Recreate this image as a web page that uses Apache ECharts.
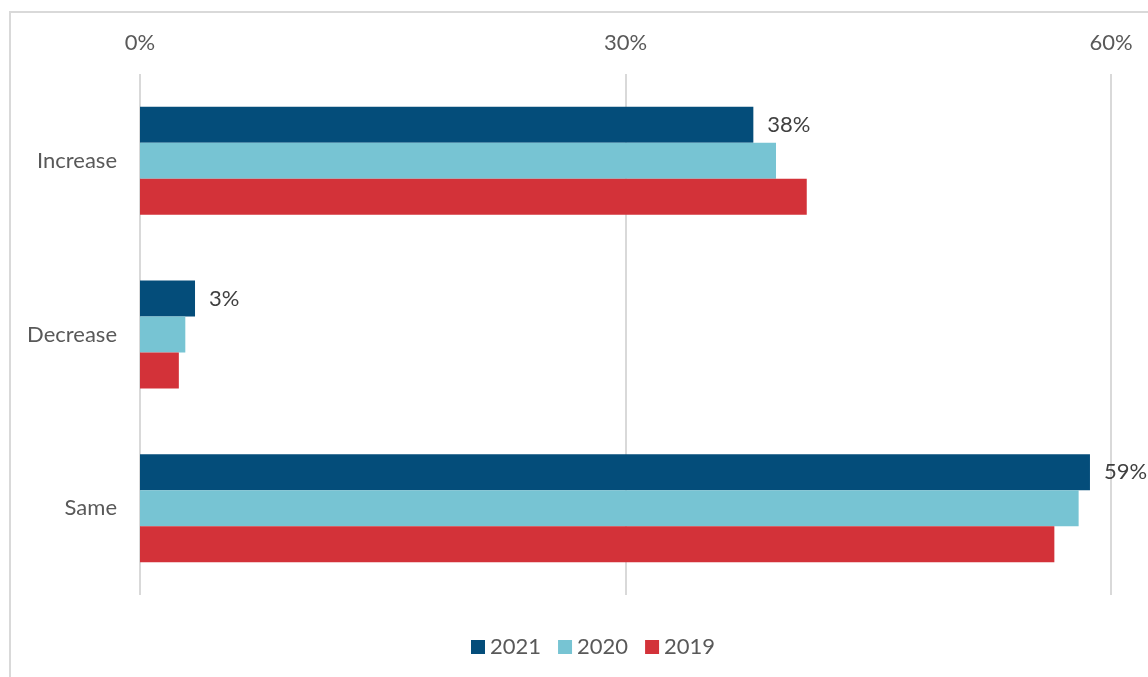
<!DOCTYPE html>
<html>
<head>
<meta charset="utf-8">
<script src="https://cdn.jsdelivr.net/npm/echarts@6/dist/echarts.min.js"></script>
<style>
html,body{margin:0;padding:0;background:#fff;}
#chart{width:1148px;height:677px;}
</style>
</head>
<body>
<div id="chart"></div>
<script>
const categories = ['Increase', 'Decrease', 'Same'];
const seriesNames = ['2021', '2020', '2019'];
const values2021 = [37.9, 3.4, 58.7];
const values2020 = [39.3, 2.8, 58.0];
const values2019 = [41.2, 2.4, 56.5];
const labels2021 = ['38%', '3%', '59%'];
const xTicks = [0, 30, 60];

const colors = ['#044D7A', '#77C4D3', '#D33239'];
const font = 'Lato, "Open Sans", sans-serif';
const fs = 22;
const chart = echarts.init(document.getElementById('chart'));

function mkSeries(name, data, color, withLabel) {
  return {
    name: name,
    type: 'bar',
    data: data,
    barWidth: 36,
    barGap: '0%',
    itemStyle: { color: color },
    label: withLabel ? {
      show: true,
      position: 'right',
      distance: 14,
      color: '#404040',
      fontFamily: font,
      fontSize: fs,
      formatter: p => labels2021[p.dataIndex]
    } : { show: false },
    animation: false
  };
}

chart.setOption({
  animation: false,
  graphic: [{
    type: 'rect',
    shape: { x: 10, y: 12, width: 1200, height: 700 },
    style: { fill: 'none', stroke: '#d9d9d9', lineWidth: 2 },
    silent: true, z: -1
  }],
  grid: { left: 140, right: 37, top: 74, bottom: 82, containLabel: false },
  xAxis: {
    type: 'value',
    position: 'top',
    min: xTicks[0],
    max: xTicks[xTicks.length - 1],
    interval: 30,
    axisLine: { show: false },
    axisTick: { show: false },
    axisLabel: { formatter: '{value}%', color: '#595959', fontFamily: font, fontSize: fs, margin: 20 },
    splitLine: { show: true, lineStyle: { color: '#d9d9d9', width: 2 } }
  },
  yAxis: {
    type: 'category',
    data: categories,
    inverse: true,
    axisLine: { show: false },
    axisTick: { show: false },
    axisLabel: { color: '#595959', fontFamily: font, fontSize: fs, margin: 23 }
  },
  legend: {
    data: seriesNames,
    bottom: 14,
    left: 466,
    itemWidth: 14,
    itemHeight: 14,
    itemGap: 17,
    textStyle: { color: '#595959', fontFamily: font, fontSize: fs },
    icon: 'rect'
  },
  series: [
    mkSeries(seriesNames[0], values2021, colors[0], true),
    mkSeries(seriesNames[1], values2020, colors[1], false),
    mkSeries(seriesNames[2], values2019, colors[2], false)
  ]
});
</script>
</body>
</html>
